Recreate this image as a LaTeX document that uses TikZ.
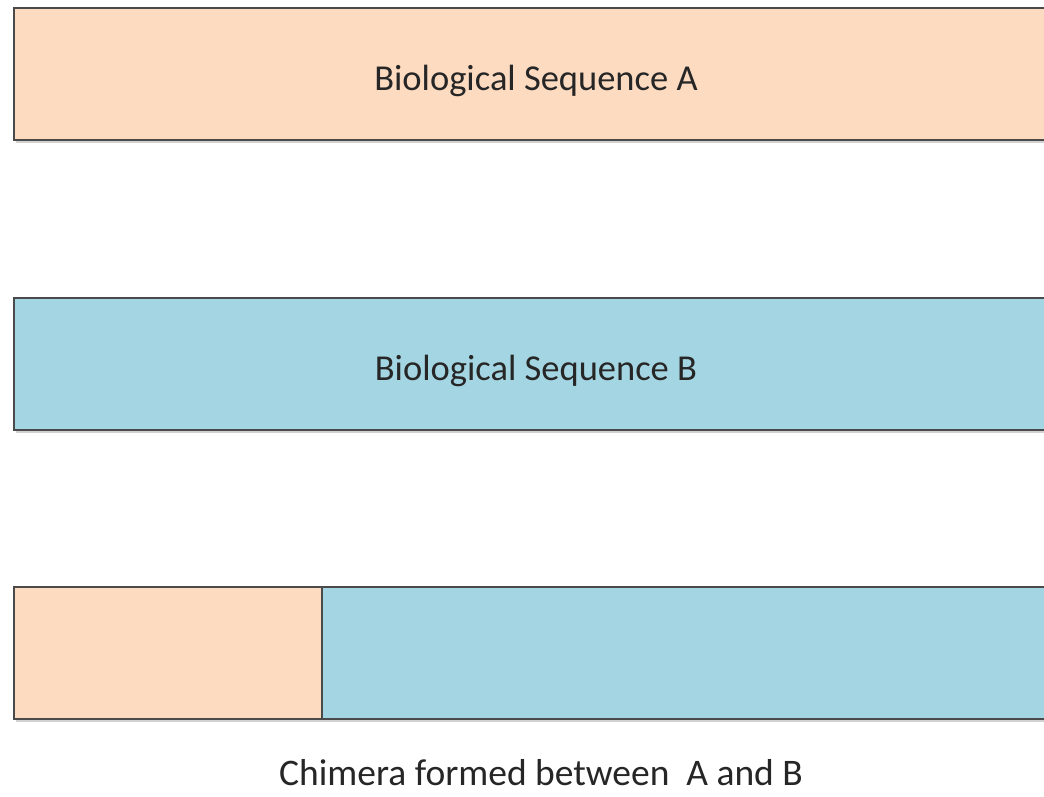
\documentclass[tikz,border=0pt]{standalone}
\usepackage{fontspec}
\setmainfont{Carlito}
\definecolor{peach}{HTML}{FDDBC1}
\definecolor{lblue}{HTML}{A4D5E3}
\definecolor{edge}{HTML}{4A4A4A}
\begin{document}
\begin{tikzpicture}[x=1pt,y=1pt,
  seqbox/.style={draw=edge,line width=1.6pt},
  shadowbox/.style={fill=black!18,draw=none},
  lbl/.style={font=\fontsize{36.5}{40}\selectfont,text=black!85,inner sep=0pt},
  caplbl/.style={font=\fontsize{37.5}{42}\selectfont,text=black!85,inner sep=0pt}]
\useasboundingbox[fill=white] (0,0) rectangle (1044,797);
\clip (0,0) rectangle (1044,797);
% shadows
\fill[shadowbox] (16,654) rectangle (1060,786);
\fill[shadowbox] (16,364) rectangle (1060,496);
\fill[shadowbox] (16,75) rectangle (1060,207);
% box A
\path[seqbox,fill=peach] (14,657) rectangle (1060,789);
\node[lbl] (la) at (536,716) {Biological Sequence A};
% box B
\path[seqbox,fill=lblue] (14,367) rectangle (1060,499);
\node[lbl] (lb) at (536,426) {Biological Sequence B};
% chimera
\path[seqbox,fill=lblue] (14,78) rectangle (1060,210);
\path[seqbox,fill=peach] (14,78) rectangle (322,210);
\node[caplbl] (lc) at (541,24) {Chimera formed between\ \ A and B};
\end{tikzpicture}
\end{document}
